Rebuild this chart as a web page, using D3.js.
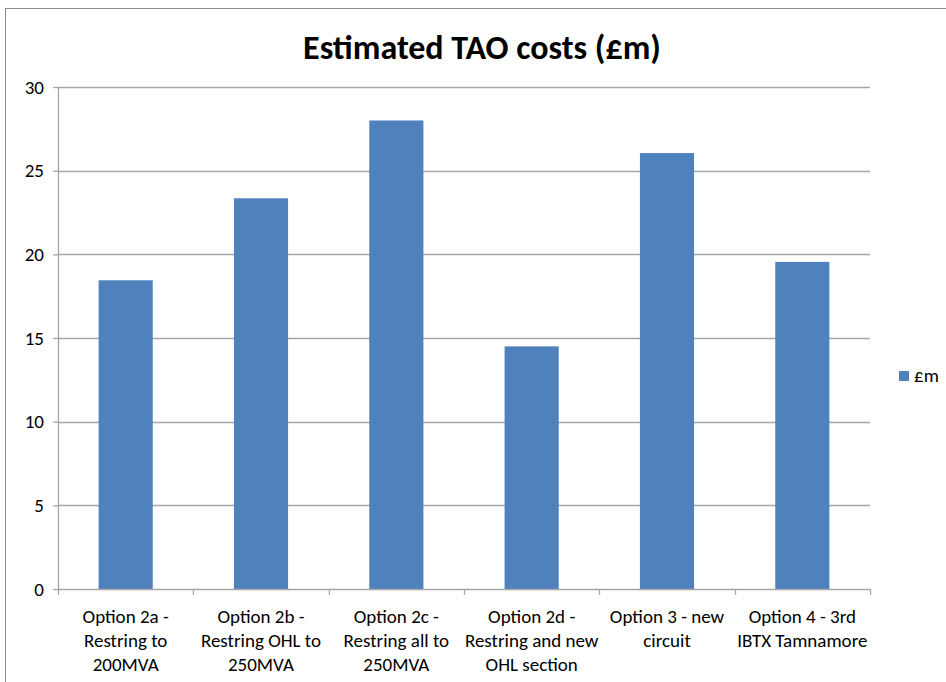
<!DOCTYPE html>
<html>
<head>
<meta charset="utf-8">
<script src="https://cdn.jsdelivr.net/npm/d3@7"></script>
<style>
  body { margin: 0; background: #fff; }
  svg { display: block; font-family: Carlito, Calibri, Lato, sans-serif; }
</style>
</head>
<body>
<div id="canvas"></div>
<script>
'use strict';

const categories = [
  ['Option 2a -', 'Restring to', '200MVA'],
  ['Option 2b -', 'Restring OHL to', '250MVA'],
  ['Option 2c -', 'Restring all to', '250MVA'],
  ['Option 2d -', 'Restring and new', 'OHL section'],
  ['Option 3 - new', 'circuit'],
  ['Option 4 - 3rd', 'IBTX Tamnamore'],
];
const costs = [18.45, 23.35, 28.0, 14.5, 26.05, 19.55];
const yTicks = [0, 5, 10, 15, 20, 25, 30];
const seriesName = '£m';
const title = 'Estimated TAO costs (£m)';

const width = 946;
const height = 682;
const margin = {top: 87, right: 76, bottom: 93, left: 58};
const chartWidth = width - margin.left - margin.right;
const chartHeight = height - margin.top - margin.bottom;
const barColor = '#4f81bd';
const gridColor = '#a6a6a6';
const fontFamily = 'Carlito, Calibri, Lato, sans-serif';

const svg = d3.select('#canvas').append('svg')
    .attr('width', width)
    .attr('height', height);

// Outer chart border (runs off the right and bottom of the picture).
svg.append('rect')
    .attr('x', 5.5)
    .attr('y', 8.5)
    .attr('width', width + 10)
    .attr('height', height + 10)
    .attr('fill', 'none')
    .attr('stroke', '#8c8c8c')
    .attr('stroke-width', 1);

svg.append('text')
    .attr('x', 482)
    .attr('y', 59)
    .attr('text-anchor', 'middle')
    .attr('font-size', 34)
    .attr('font-weight', 'bold')
    .attr('fill', '#000')
    .text(title);

const chart = svg.append('g')
    .attr('transform', `translate(${margin.left}, ${margin.top})`);

const x = d3.scaleBand()
    .domain(d3.range(categories.length))
    .range([0, chartWidth])
    .paddingInner(0.6)
    .paddingOuter(0.3);

const y = d3.scaleLinear()
    .domain([0, 30])
    .range([chartHeight, 0]);

// Horizontal gridlines.
chart.append('g')
    .selectAll('line')
    .data(yTicks.filter(t => t > 0))
    .join('line')
    .attr('x1', 0)
    .attr('x2', chartWidth)
    .attr('y1', d => Math.round(y(d)) + 0.5)
    .attr('y2', d => Math.round(y(d)) + 0.5)
    .attr('stroke', gridColor)
    .attr('stroke-width', 1.3);

// Bars.
chart.append('g')
    .selectAll('rect')
    .data(costs)
    .join('rect')
    .attr('x', (d, i) => x(i))
    .attr('y', d => y(d))
    .attr('width', x.bandwidth())
    .attr('height', d => chartHeight - y(d))
    .attr('fill', barColor);

// Y axis.
const yAxis = chart.append('g')
    .call(d3.axisLeft(y).tickValues(yTicks).tickSize(5).tickPadding(9));
yAxis.select('.domain').attr('stroke', gridColor).attr('stroke-width', 1.3)
    .attr('d', `M0.5,0V${chartHeight}`);
yAxis.selectAll('.tick line').attr('stroke', gridColor).attr('stroke-width', 1.3);
yAxis.selectAll('.tick text')
    .attr('font-size', 19)
    .attr('font-family', fontFamily)
    .attr('fill', '#000');

// X axis with boundary ticks between categories.
const xAxisG = chart.append('g')
    .attr('transform', `translate(0, ${chartHeight})`);
xAxisG.append('line')
    .attr('x1', 0)
    .attr('x2', chartWidth)
    .attr('y1', 0.5)
    .attr('y2', 0.5)
    .attr('stroke', gridColor)
    .attr('stroke-width', 1.3);
xAxisG.selectAll('.boundary')
    .data(d3.range(categories.length + 1))
    .join('line')
    .attr('class', 'boundary')
    .attr('x1', i => Math.round(i * chartWidth / categories.length) + 0.5)
    .attr('x2', i => Math.round(i * chartWidth / categories.length) + 0.5)
    .attr('y1', 0)
    .attr('y2', 6)
    .attr('stroke', gridColor)
    .attr('stroke-width', 1.3);

xAxisG.selectAll('.label')
    .data(categories)
    .join('text')
    .attr('class', 'label')
    .attr('text-anchor', 'middle')
    .attr('font-size', 19)
    .attr('fill', '#000')
    .attr('transform', (d, i) => `translate(${x(i) + x.bandwidth() / 2}, 0)`)
    .selectAll('tspan')
    .data(d => d)
    .join('tspan')
    .attr('x', 0)
    .attr('y', (d, j) => 34 + j * 24)
    .text(d => d);

// Legend.
const legend = svg.append('g')
    .attr('transform', 'translate(899, 371)');
legend.append('rect')
    .attr('width', 10)
    .attr('height', 10)
    .attr('fill', barColor);
legend.append('text')
    .attr('x', 15)
    .attr('y', 11)
    .attr('font-size', 19)
    .attr('fill', '#000')
    .text(seriesName);
</script>
</body>
</html>
